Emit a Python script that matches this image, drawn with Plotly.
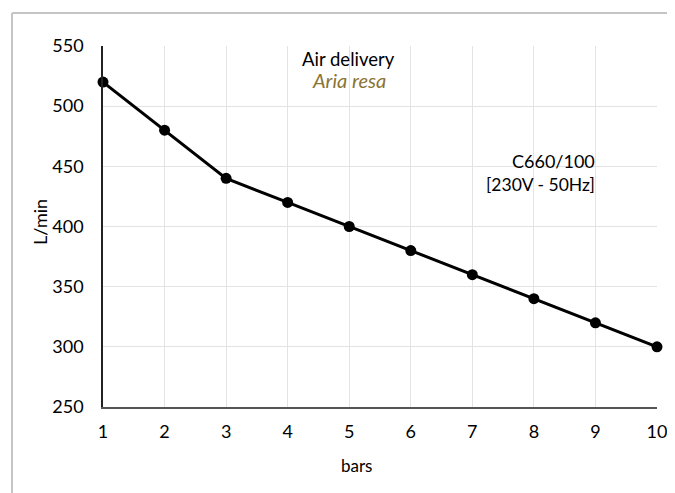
import plotly.graph_objects as go

pressure_bar = [1, 2, 3, 4, 5, 6, 7, 8, 9, 10]
air_delivery = [520, 480, 440, 420, 400, 380, 360, 340, 320, 300]
y_ticks = [250, 300, 350, 400, 450, 500, 550]

FONT = "Lato"

fig = go.Figure()
fig.add_trace(go.Scatter(
    x=pressure_bar, y=air_delivery, mode="lines+markers",
    line=dict(color="black", width=3),
    marker=dict(color="black", size=11),
    showlegend=False, cliponaxis=False,
))

fig.update_layout(
    width=667, height=485,
    margin=dict(l=95, r=18, t=38, b=86, autoexpand=False),
    paper_bgcolor="white", plot_bgcolor="white",
    font=dict(family=FONT, size=18, color="black"),
    xaxis=dict(
        range=[1, 10], tickvals=pressure_bar, showgrid=True,
        gridcolor="#e3e3e3", gridwidth=1, showline=True, linecolor="#555555",
        linewidth=1.5, zeroline=False, ticklabelstandoff=8, automargin=False,
        tickfont=dict(size=18),
    ),
    yaxis=dict(
        range=[250, 550], tickvals=y_ticks, showgrid=True,
        gridcolor="#e3e3e3", gridwidth=1, showline=True, linecolor="#222222",
        linewidth=1.5, zeroline=False, ticklabelstandoff=14, automargin=False,
        tickfont=dict(size=18),
    ),
    annotations=[
        dict(text="bars", x=0.4567, y=-0.1607, xref="paper", yref="paper",
             showarrow=False, font=dict(size=17, color="black"), xanchor="center", yanchor="middle"),
        dict(text="L/min", x=-0.1137, y=0.5125, xref="paper", yref="paper", textangle=-90,
             showarrow=False, font=dict(size=18, color="black"), xanchor="center", yanchor="middle"),
        dict(text="Air delivery", x=0.444, y=0.964, xref="paper", yref="paper",
             showarrow=False, font=dict(size=18.5, color="black"), xanchor="center", yanchor="middle"),
        dict(text="<i>Aria resa</i>", x=0.444, y=0.906, xref="paper", yref="paper",
             showarrow=False, font=dict(size=20, color="#8a7433"), xanchor="center", yanchor="middle"),
        dict(text="C660/100", x=0.8917, y=0.6814, xref="paper", yref="paper",
             showarrow=False, font=dict(size=18, color="black"), xanchor="right", yanchor="middle"),
        dict(text="[230V - 50Hz]", x=0.8917, y=0.6163, xref="paper", yref="paper",
             showarrow=False, font=dict(size=17.5, color="black"), xanchor="right", yanchor="middle"),
    ],
    shapes=[
        dict(type="line", xref="paper", yref="paper", x0=-0.1643, x1=1.2, y0=1.0914, y1=1.0914,
             line=dict(color="#c4c4c4", width=2)),
        dict(type="line", xref="paper", yref="paper", x0=-0.1643, x1=-0.1643, y0=1.0914, y1=-0.3,
             line=dict(color="#c4c4c4", width=2)),
    ],
)

fig.write_html("out.html")
